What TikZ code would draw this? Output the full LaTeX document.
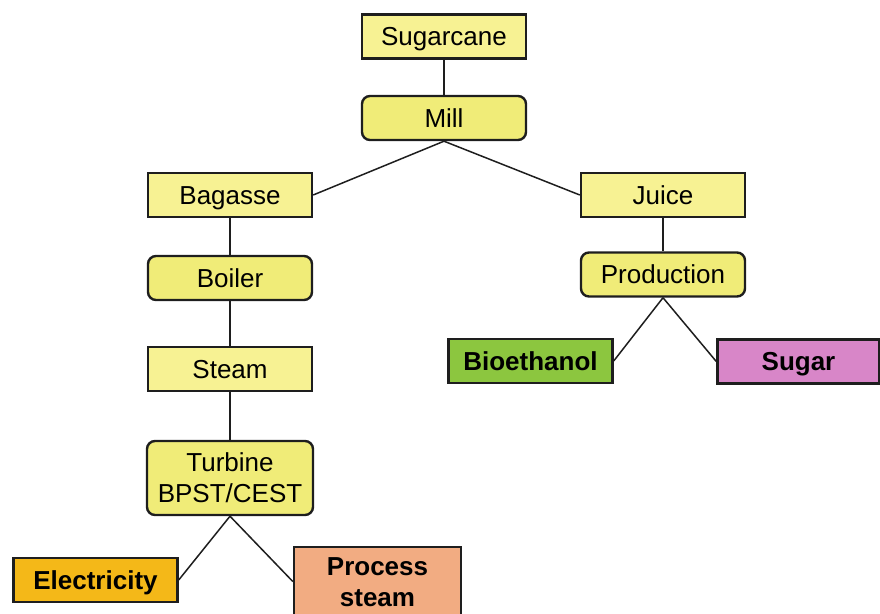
\documentclass[tikz,border=0pt]{standalone}
\usepackage{fontspec}
\setmainfont{Liberation Sans}
\definecolor{boxyellow}{HTML}{F7F293}
\definecolor{procyellow}{HTML}{F0EC78}
\definecolor{edgegray}{HTML}{1E1E1E}
\definecolor{ethgreen}{HTML}{8CC63F}
\definecolor{sugarpink}{HTML}{D886C8}
\definecolor{elecorange}{HTML}{F4B818}
\definecolor{steamsalmon}{HTML}{F2AC82}
\tikzset{
  x=1pt, y=-1pt,
  basebox/.style={draw=edgegray, line width=2.4pt, minimum height=44pt,
    minimum width=164pt, inner sep=0pt, align=center,
    text height=18.6pt, text depth=0pt,
    font=\fontsize{26}{31}\selectfont, text=black},
  twoline/.style={text height=49.6pt, text depth=0pt},
  material/.style={basebox, fill=boxyellow},
  process/.style={basebox, fill=procyellow, rounded corners=8pt},
  product/.style={basebox, font=\fontsize{26}{31}\selectfont\bfseries},
  link/.style={draw=edgegray, line width=1.5pt}
}
\begin{document}
\begin{tikzpicture}
\useasboundingbox (0,0) rectangle (880,613);
\clip (0,0) rectangle (880,613);

% Cane and milling
\node[material] (cane) at (444,36.5) {Sugarcane};
\node[process] (mill) at (444,118) {Mill};

% Bagasse branch
\node[material] (bagasse) at (230,195) {Bagasse};
\node[process] (boiler) at (230,278) {Boiler};
\node[material] (steam) at (230,369) {Steam};
\node[process, twoline, minimum height=74pt, minimum width=166pt] (turbine) at (230,478)
  {Turbine\\BPST/CEST};
\node[product, fill=elecorange] (elec) at (95.5,580) {Electricity};
\node[product, twoline, fill=steamsalmon, minimum height=69pt, minimum width=167pt] (psteam)
  at (377.5,581.5) {Process\\steam};

% Juice branch
\node[material] (juice) at (663,195) {Juice};
\node[process] (prod) at (663,274.5) {Production};
\node[product, fill=ethgreen] (ethanol) at (530.5,361) {Bioethanol};
\node[product, fill=sugarpink, minimum width=162pt] (sugar) at (798.5,361.5) {Sugar};

% Connectors
\draw[link] (cane) -- (mill);
\draw[link] (mill.south) -- (bagasse.east);
\draw[link] (mill.south) -- (juice.west);
\draw[link] (bagasse) -- (boiler);
\draw[link] (boiler) -- (steam);
\draw[link] (steam) -- (turbine);
\draw[link] (turbine.south) -- (elec.east);
\draw[link] (turbine.south) -- (psteam.west);
\draw[link] (juice) -- (prod);
\draw[link] (prod.south) -- (ethanol.east);
\draw[link] (prod.south) -- (sugar.west);
\end{tikzpicture}
\end{document}
